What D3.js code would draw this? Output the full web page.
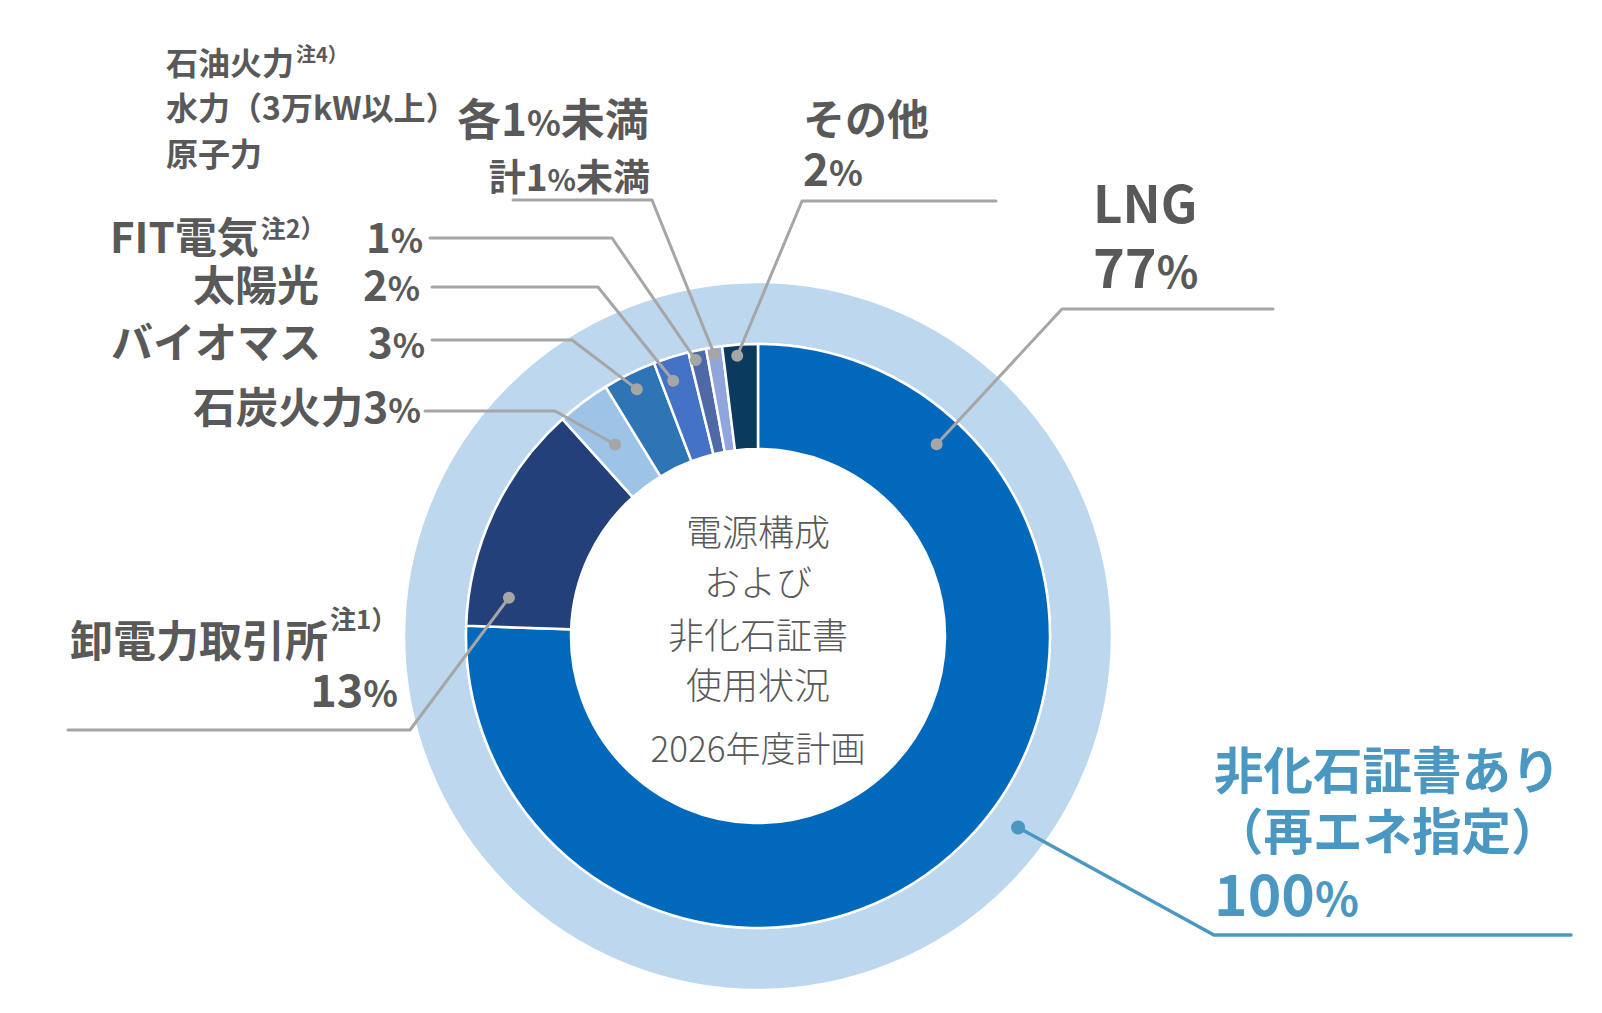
<!DOCTYPE html>
<html>
<head>
<meta charset="utf-8">
<script src="https://cdn.jsdelivr.net/npm/d3@7"></script>
<style>
  body { margin: 0; background: #fff; }
  text { font-family: "Noto Sans CJK JP", "Noto Sans", sans-serif; }
</style>
</head>
<body>
<svg id="chart"></svg>
<script>
// data
const categories = ['LNG', '卸電力取引所', '石炭火力', 'バイオマス', '太陽光', 'FIT電気', '石油火力・水力・原子力', 'その他'];
const shares = [77, 13, 3, 3, 2, 1, 0.9, 2];
const sliceColors = ['#0069bb', '#24407a', '#9dc3e6', '#2e75b6', '#4472c4', '#4f69a6', '#8fa5dc', '#0a3a5e'];
const certShare = [100];
const certLines = ['非化石証書あり', '（再エネ指定）'];
const centerLines = ['電源構成', 'および', '非化石証書', '使用状況', '2026年度計画'];
const smallGroup = ['石油火力', '水力（3万kW以上）', '原子力'];

const width = 1602, height = 1013;
const cx = 758, cy = 636;
const gray = '#595959', lineGray = '#a6a6a6', teal = '#4a98c2';

const svg = d3.select('#chart')
              .attr('width', width)
              .attr('height', height);

const g = svg.append('g')
              .attr('transform', 'translate(' + cx + ',' + cy + ')');

const pie = d3.pie().sort(null).value(d => d);
const slices = pie(shares);

const innerArc = d3.arc().innerRadius(187).outerRadius(292);
const outerArc = d3.arc().innerRadius(292).outerRadius(354);

g.selectAll('.outer')
  .data(pie(certShare))
  .enter()
    .append('path')
    .classed('outer', true)
    .attr('d', outerArc)
    .attr('fill', '#bdd7ee')
    .attr('stroke', '#fff')
    .attr('stroke-width', 2.5);

g.selectAll('.arc')
  .data(slices)
  .enter()
    .append('path')
    .classed('arc', true)
    .attr('d', innerArc)
    .attr('fill', (d, i) => sliceColors[i])
    .attr('stroke', '#fff')
    .attr('stroke-width', 2.5);

// centre caption
g.selectAll('.center')
  .data(centerLines)
  .enter()
    .append('text')
    .attr('x', 0)
    .attr('y', (d, i) => [-90, -40, 13, 63, 126][i])
    .attr('text-anchor', 'middle')
    .attr('font-size', (d, i) => i === 4 ? 35 : 36)
    .attr('font-weight', 300)
    .attr('fill', gray)
    .text(d => d);

// leader lines: slice index, position on the slice, elbow, end
const leaders = [
  { i: 0, t: 0.158, r: 262, elbow: [1062, 309], end: [1273, 309] },
  { i: 1, t: 0.146, r: 252, elbow: [410, 730], end: [68, 730] },
  { i: 2, t: 0.5, r: 239, elbow: [555, 411], end: [425, 411] },
  { i: 3, t: 0.5, r: 275, elbow: [572, 340], end: [432, 340] },
  { i: 4, t: 0.35, r: 269, elbow: [598, 287], end: [432, 287] },
  { i: 5, t: 0.3, r: 283, elbow: [612, 238], end: [430, 238] },
  { i: 6, t: 0.45, r: 285, elbow: [652, 200], end: [513, 200] },
  { i: 7, t: 0.4, r: 281, elbow: [802, 201], end: [996, 201] }
];

function pointOn(d, t, r) {
  const a = d.startAngle + t * (d.endAngle - d.startAngle);
  return [cx + r * Math.sin(a), cy - r * Math.cos(a)];
}

leaders.forEach(l => {
  const p = pointOn(slices[l.i], l.t, l.r);
  svg.append('path')
      .attr('d', d3.line()([l.end, l.elbow, p]))
      .attr('fill', 'none')
      .attr('stroke', lineGray)
      .attr('stroke-width', 3)
      .attr('stroke-linecap', 'round')
      .attr('stroke-linejoin', 'round');
  svg.append('circle')
      .attr('cx', p[0]).attr('cy', p[1]).attr('r', 6)
      .attr('fill', lineGray);
});

// outer ring leader
const certSlice = pie(certShare)[0];
const cp = pointOn({ startAngle: 0, endAngle: certSlice.endAngle }, 0.351, 323);
svg.append('path')
    .attr('d', d3.line()([[1571, 935], [1214, 935], cp]))
    .attr('fill', 'none')
    .attr('stroke', teal)
    .attr('stroke-width', 3.5)
    .attr('stroke-linecap', 'round');
svg.append('circle')
    .attr('cx', cp[0]).attr('cy', cp[1]).attr('r', 7)
    .attr('fill', teal);

// labels
function label(x, y, size, anchor, str, color) {
  const t = svg.append('text')
                .attr('x', x)
                .attr('y', y)
                .attr('font-size', size)
                .attr('font-weight', 700)
                .attr('text-anchor', anchor || 'start')
                .attr('fill', color || gray);
  // smaller percent sign
  str.split('%').forEach((part, k, arr) => {
    if (part) t.append('tspan').text(part);
    if (k < arr.length - 1) t.append('tspan').attr('font-size', '0.8em').text('%');
  });
  return t;
}

function note(t, str, size, rise) {
  const b = t.node().getBBox();
  svg.append('text')
      .attr('x', b.x + b.width + 2)
      .attr('y', +t.attr('y') - rise)
      .attr('font-size', size)
      .attr('font-weight', 700)
      .attr('fill', gray)
      .text(str);
}

const pct = i => shares[i] + '%';

label(1093, 223, 51, 'start', categories[0]);
label(1093, 288, 54, 'start', pct(0));

note(label(70, 657, 43, 'start', categories[1]), '注1）', 26, 28);
label(398, 707, 45, 'end', pct(1));

label(421, 423, 42.5, 'end', categories[2] + pct(2));
label(321, 358, 42, 'end', categories[3]);
label(425, 358, 42, 'end', pct(3));
label(319, 301, 42, 'end', categories[4]);
label(420, 301, 42, 'end', pct(4));
note(label(110, 253, 42, 'start', categories[5]), '注2）', 25, 15);
label(423, 253, 42, 'end', pct(5));

note(label(166, 75, 32, 'start', smallGroup[0]), '注4）', 20, 13);
label(166, 120, 32, 'start', smallGroup[1]);
label(166, 166, 32, 'start', smallGroup[2]);
label(457, 136, 44, 'start', '各1%未満');
label(650, 191, 37, 'end', '計1%未満');

label(803, 135, 42, 'start', categories[7]);
label(803, 186, 44, 'start', pct(7));

label(1214, 789, 49.5, 'start', certLines[0], teal);
label(1214, 850, 49.5, 'start', certLines[1], teal);
label(1214, 916, 57, 'start', certShare[0] + '%', teal);
</script>
</body>
</html>
